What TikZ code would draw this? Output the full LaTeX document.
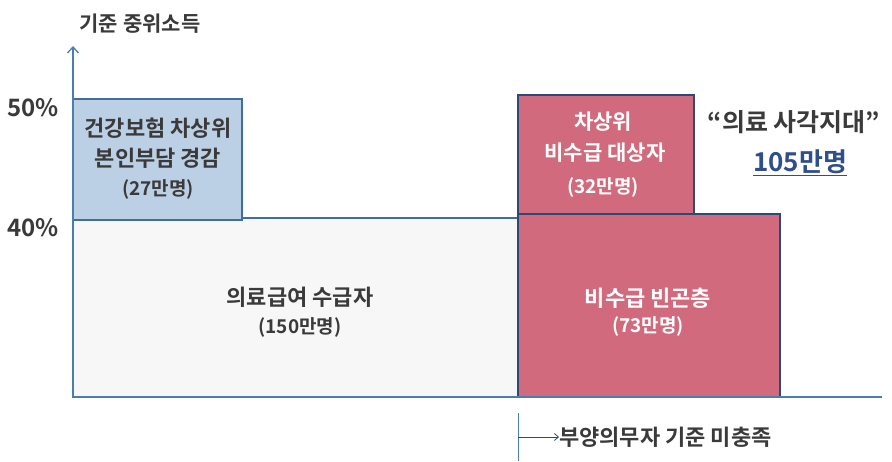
\documentclass[tikz,border=0pt]{standalone}
\usepackage{fontspec}
\setmainfont{Noto Sans CJK KR}[BoldFont={* Bold}]
\usetikzlibrary{arrows.meta}
\definecolor{axisblue}{HTML}{4A7DB0}
\definecolor{boxblue}{HTML}{BCD0E5}
\definecolor{boxline}{HTML}{3E6FA0}
\definecolor{pinkfill}{HTML}{D06A7C}
\definecolor{pinkline}{HTML}{2C4A78}
\definecolor{whitefill}{HTML}{F7F7F7}
\definecolor{textdark}{HTML}{3A3A3A}
\definecolor{numblue}{HTML}{2E4F8A}
\tikzset{
  x=1pt, y=-1pt,
  barbox/.style={rectangle, inner sep=0pt, line width=1.3pt},
  bluebox/.style={barbox, draw=boxline, fill=boxblue},
  whitebox/.style={barbox, draw=boxline, fill=whitefill},
  pinkbox/.style={barbox, draw=pinkline, fill=pinkfill},
  lbl/.style={font=\bfseries\fontsize{22}{26}\selectfont, text=textdark, inner sep=0pt},
  pct/.style={font=\bfseries\fontsize{24}{28}\selectfont, text=textdark, inner sep=0pt},
  small/.style={font=\bfseries\fontsize{19}{22}\selectfont}
}
\begin{document}
\begin{tikzpicture}
\useasboundingbox (0,0) rectangle (892,461);
% boxes
\node[whitebox, minimum width=445pt, minimum height=179pt] (med) at (295.5,307.5) {};
\node[bluebox, minimum width=169pt, minimum height=121pt] (hi) at (157.5,159.5) {};
\node[pinkbox, minimum width=262pt, minimum height=183pt] (poor) at (649,305.5) {};
\node[pinkbox, minimum width=176pt, minimum height=119pt] (near) at (606,154.5) {};
% box texts
\node[lbl] (hi1) at (158,128) {건강보험 차상위};
\node[lbl] (hi2) at (158,158) {본인부담 경감};
\node[lbl, small] (hi3) at (158,189) {(27만명)};
\node[lbl] (med1) at (300,297) {의료급여 수급자};
\node[lbl, small] (med2) at (300,327) {(150만명)};
\node[lbl, text=white, font=\bfseries\fontsize{21}{26}\selectfont] (near1) at (603,122) {차상위};
\node[lbl, text=white, font=\bfseries\fontsize{21}{26}\selectfont] (near2) at (605,153) {비수급 대상자};
\node[lbl, small, text=white] (near3) at (603,187) {(32만명)};
\node[lbl, text=white] (poor1) at (648,298) {비수급 빈곤층};
\node[lbl, small, text=white] (poor2) at (648,326) {(73만명)};
% side label
\node[lbl, font=\bfseries\fontsize{25}{28}\selectfont] (blind) at (794,122) {“의료 사각지대”};
\node[lbl, text=numblue, font=\bfseries\fontsize{26}{30}\selectfont] (num) at (800,163) {\underline{105만명}};
% axes
\coordinate (o) at (73,397);
\coordinate (top) at (73,46);
\coordinate (xend) at (882,397);
\draw[axisblue, line width=1.3pt, -{Straight Barb[length=6pt,width=11pt]}] (o) -- (top);
\draw[axisblue, line width=1.3pt] (o) -- (xend);
\node[lbl, font=\bfseries\fontsize{21}{24}\selectfont] (ylab) at (140,24) {기준 중위소득};
\node[pct] (p50) at (33,108) {50\%};
\node[pct] (p40) at (33,228) {40\%};
% bottom marker
\coordinate (vt) at (518,413);
\coordinate (vb) at (518,461);
\coordinate (va) at (518,437);
\draw[axisblue, line width=1pt] (vt) -- (vb);
\node[lbl, anchor=west] (dep) at (559,437) {부양의무자 기준 미충족};
\draw[pinkline, line width=0.8pt, -{Straight Barb[length=4pt,width=7pt]}] (va) -- (dep.west);
\end{tikzpicture}
\end{document}
